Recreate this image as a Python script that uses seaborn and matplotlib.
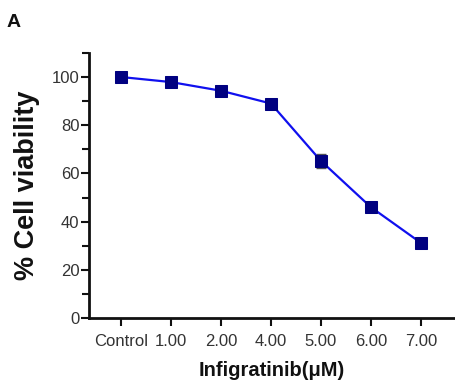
import matplotlib
matplotlib.use("Agg")
import matplotlib.pyplot as plt
from matplotlib.ticker import MultipleLocator
import seaborn as sns
import pandas as pd

# Data
concentrations = ["Control", "1.00", "2.00", "4.00", "5.00", "6.00", "7.00"]
viability = [100.0, 97.9, 94.3, 89.0, 65.2, 46.0, 31.2]
viability_err = [1.0, 1.0, 1.2, 1.0, 3.0, 1.0, 0.8]

sns.set_theme(style="ticks")
plt.rcParams["font.family"] = ["Liberation Sans", "DejaVu Sans"]

df = pd.DataFrame({"conc": concentrations, "via": viability, "err": viability_err})

fig = plt.figure(figsize=(4.56, 3.89), dpi=100)
ax = fig.add_axes([0.1952, 0.1825, 0.8000, 0.6815])

ax.errorbar(df["conc"], df["via"], yerr=df["err"], fmt="none",
            ecolor="#555555", elinewidth=1.0, capsize=3.5, capthick=1.0, zorder=2)
sns.lineplot(data=df, x="conc", y="via", ax=ax, color="#1010ee", linewidth=1.6,
             marker="s", markersize=8.5, markerfacecolor="#000080",
             markeredgecolor="#000080", sort=False, zorder=3)

ax.set_ylim(0, 110)
ax.set_xlim(-0.64, 6.66)
ax.yaxis.set_major_locator(MultipleLocator(20))
ax.yaxis.set_minor_locator(MultipleLocator(10))
ax.set_yticks([0, 20, 40, 60, 80, 100])

for s in ["top", "right"]:
    ax.spines[s].set_visible(False)
for s in ["left", "bottom"]:
    ax.spines[s].set_linewidth(2.0)
    ax.spines[s].set_color("#111111")

ax.tick_params(axis="both", which="major", direction="out", length=5.5, width=1.5,
               color="#111111", labelsize=12, labelcolor="#333333")
ax.tick_params(axis="y", which="minor", direction="out", length=5, width=1.5, color="#111111")
ax.tick_params(axis="y", which="major", pad=1.5)
ax.tick_params(axis="x", which="major", pad=6)

ax.set_xlabel("Infigratinib(μM)", fontsize=14.5, fontweight="bold", color="#111111", labelpad=9)
ax.set_ylabel("% Cell viability", fontsize=19.5, fontweight="bold", color="#111111", labelpad=8)

fig.text(0.015, 0.93, "A", fontsize=14, fontweight="bold", color="#111111")

fig.savefig("out.png", dpi=100)
